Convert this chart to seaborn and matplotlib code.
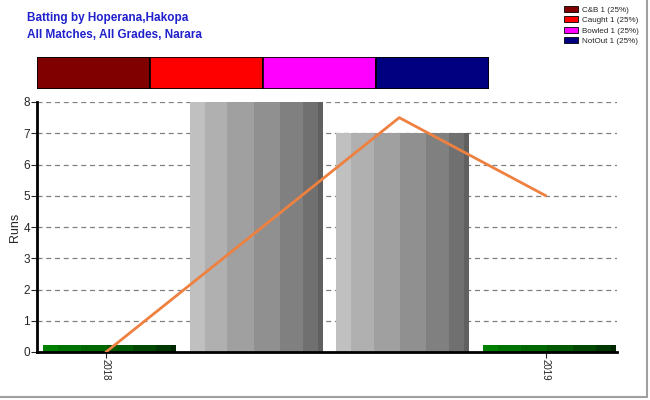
import matplotlib.pyplot as plt
from matplotlib.patches import Patch
from matplotlib.lines import Line2D
import numpy as np
import pandas as pd
import seaborn as sns

sns.set_style('white')
plt.rcParams['font.family'] = ['Liberation Sans', 'DejaVu Sans']

# data
slots = [0, 1, 2, 3]
runs = [0.22, 8, 7, 0.22]
bar_kind = ['year', 'inn', 'inn', 'year']
tick_slots = [0, 3]
tick_labels = ['2018', '2019']
avg_slots = [0, 2, 3]
avg_runs = [0, 7.5, 5]

dismissals = ['C&B', 'Caught', 'Bowled', 'NotOut']
dismissal_counts = [1, 1, 1, 1]
dismissal_pct = [25, 25, 25, 25]
dismissal_colors = ['#800000', '#ff0000', '#ff00ff', '#000080']

# bar shading (style only): stripe colours and relative stripe widths
grad = {
    'inn': ['#c0c0c0', '#b0b0b0', '#a0a0a0', '#909090', '#808080', '#707070', '#606060'],
    'year': ['#008000', '#007400', '#006600', '#005800', '#004800', '#003600', '#002600'],
}
stripe_w = np.array([0.113, 0.171, 0.198, 0.196, 0.171, 0.113, 0.038])
stripe_w = stripe_w / stripe_w.sum()
bar_shift = 0.024

fig = plt.figure(figsize=(6.5, 4), dpi=100)
ax = fig.add_axes([0.057, 0.12, 0.892, 0.625])

df = pd.DataFrame({'slot': slots, 'runs': runs})
sns.barplot(data=df, x='slot', y='runs', width=0.907, color='#a0a0a0', ax=ax, zorder=2)

# stepped shading inside each bar
for p, kind in zip(list(ax.patches), bar_kind):
    x0, w, h = p.get_x() + bar_shift, p.get_width(), p.get_height()
    lefts = x0 + w * np.concatenate([[0], np.cumsum(stripe_w)[:-1]])
    ax.bar(lefts, h, width=w * stripe_w, align='edge', color=grad[kind],
           lw=0, zorder=2)
    p.set_visible(False)

ax.plot(avg_slots, avg_runs, color='#ee8040', lw=2, zorder=3)

ax.set_xlim(-0.470, 3.484)
ax.set_ylim(0, 8)
ax.set_yticks(range(0, 9))
ax.yaxis.grid(True, linestyle=(0, (4, 3)), color='#808080', lw=0.9, zorder=0)
ax.set_axisbelow(True)
ax.set_xticks(tick_slots)
ax.set_xticklabels(tick_labels, rotation=-90, fontsize=7)
ax.tick_params(axis='y', labelsize=8.5, length=4, width=0.8, direction='out', left=True, pad=1)
ax.tick_params(axis='x', length=4, width=0.8, direction='out', bottom=True, pad=1)
ax.set_xlabel('')
ax.set_ylabel('Runs', fontsize=9, labelpad=2)
for s in ['top', 'right']:
    ax.spines[s].set_visible(False)
for s in ['left', 'bottom']:
    ax.spines[s].set_color('black')
    ax.spines[s].set_linewidth(2)

# dismissal strip
ax2 = fig.add_axes([0.057, 0.7775, 0.695, 0.08])
left = 0
for pct, col in zip(dismissal_pct, dismissal_colors):
    ax2.barh(0, pct, left=left, height=1, color=col, edgecolor='black', lw=1.2)
    left += pct
ax2.set_xlim(0, 100)
ax2.set_ylim(-0.5, 0.5)
ax2.axis('off')

handles = [Patch(facecolor=c, edgecolor='black', lw=0.6,
                 label='{0} {1} ({2}%)'.format(n, k, p))
           for n, k, p, c in zip(dismissals, dismissal_counts, dismissal_pct, dismissal_colors)]
fig.legend(handles=handles, loc='upper left', bbox_to_anchor=(0.861, 0.997),
           fontsize=5.8, frameon=False, handlelength=1.7, handleheight=0.8,
           labelspacing=0.3, handletextpad=0.5, borderaxespad=0.2)

fig.text(0.041, 0.955, 'Batting by Hoperana,Hakopa', color='#2020cc',
         fontsize=8.5, fontweight='bold', va='center')
fig.text(0.041, 0.912, 'All Matches, All Grades, Narara', color='#2020cc',
         fontsize=8.5, fontweight='bold', va='center')

# outer frame, right and bottom edges
fig.add_artist(Line2D([0, 0.995], [0.007, 0.007], color='#a0a0a0', lw=1.5, transform=fig.transFigure))
fig.add_artist(Line2D([0.995, 0.995], [0.007, 1], color='#a0a0a0', lw=1.5, transform=fig.transFigure))

fig.savefig('out.png', dpi=100)
